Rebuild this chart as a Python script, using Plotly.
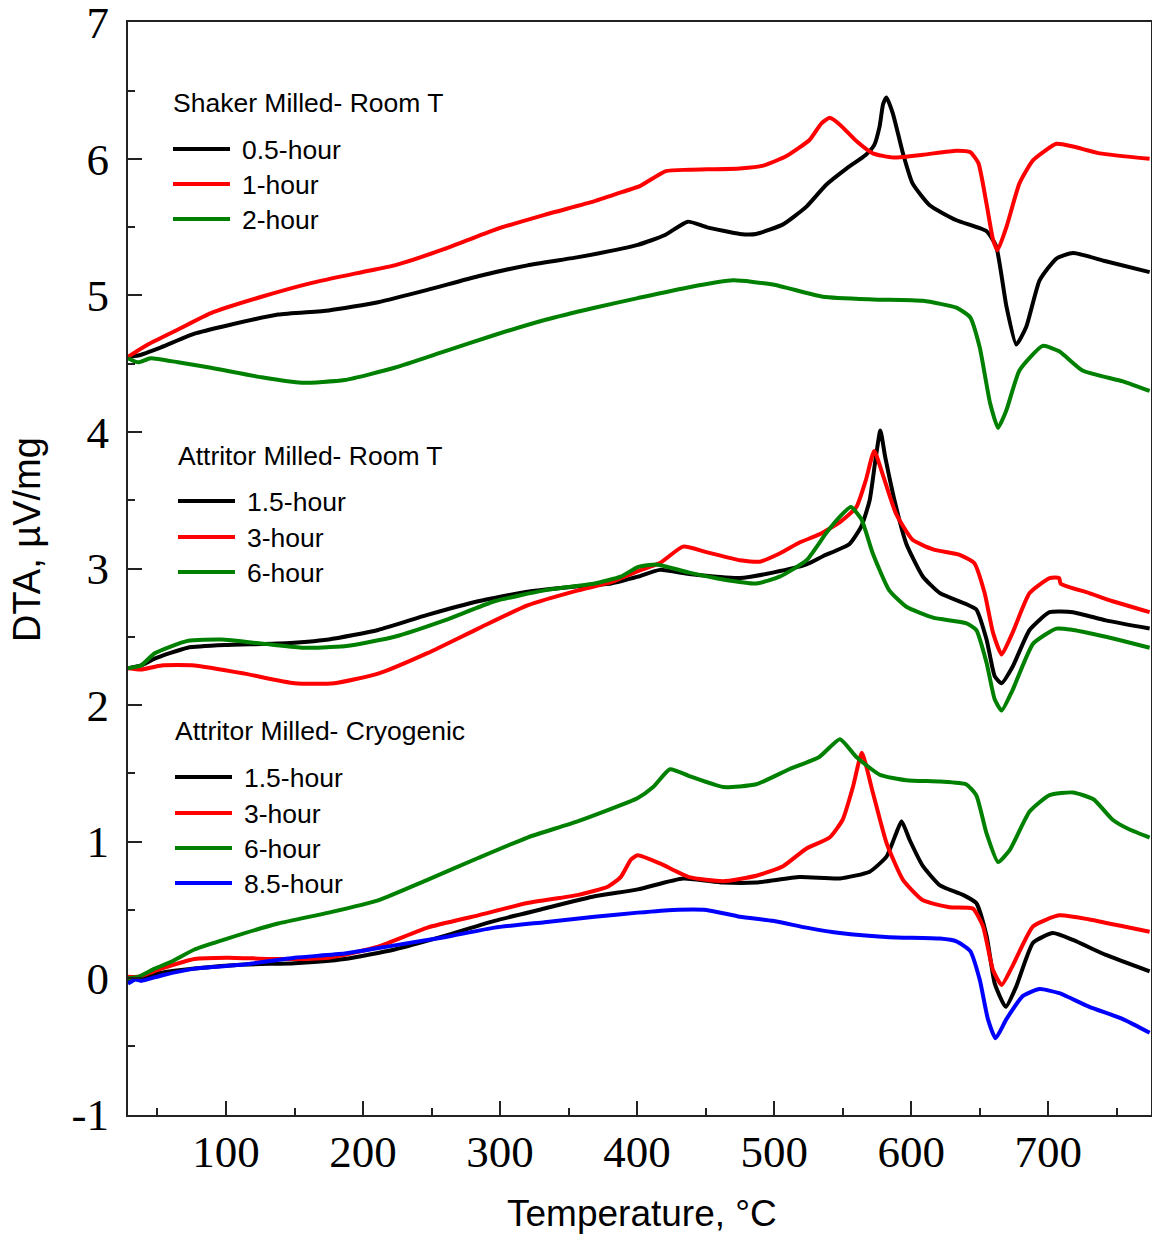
import plotly.graph_objects as go

# ---------------- data ----------------
# Shaker Milled - Room T
sh_05_T = [28.5, 36, 52.6, 77, 101, 138, 175, 211, 247, 284, 320, 357, 400.5, 420, 437, 450.6, 475, 487, 506.5, 523.6, 538, 553, 567, 573, 577, 579.5, 582, 586.7, 594, 601, 613.5, 633, 655, 662, 669.5, 676.7, 684, 693.7, 706, 718, 742, 774]
sh_05_y = [4.55, 4.56, 4.62, 4.72, 4.78, 4.86, 4.89, 4.95, 5.04, 5.14, 5.22, 5.28, 5.37, 5.44, 5.54, 5.50, 5.45, 5.45, 5.52, 5.65, 5.81, 5.93, 6.03, 6.10, 6.24, 6.40, 6.45, 6.33, 6.04, 5.82, 5.66, 5.55, 5.47, 5.36, 4.92, 4.64, 4.77, 5.11, 5.27, 5.31, 5.25, 5.17]

sh_1_T = [28.5, 43, 65, 89, 126, 162, 199, 223, 259.5, 296, 332.5, 369, 393, 402, 421, 438, 475, 492, 509, 526, 534.5, 540.5, 548, 560, 572, 587, 608.6, 633, 643, 649, 655, 659.7, 663, 669.5, 679, 689, 706, 718, 737.5, 774]
sh_1_y = [4.55, 4.64, 4.75, 4.87, 4.99, 5.09, 5.17, 5.22, 5.34, 5.48, 5.59, 5.69, 5.77, 5.80, 5.91, 5.92, 5.93, 5.95, 6.02, 6.14, 6.26, 6.30, 6.25, 6.13, 6.04, 6.01, 6.03, 6.06, 6.05, 5.97, 5.67, 5.41, 5.33, 5.50, 5.82, 5.99, 6.11, 6.09, 6.04, 6.00]

sh_2_T = [28.5, 36, 45, 65, 89, 126, 155, 186.6, 223, 259.5, 296, 332.5, 369, 400.5, 438, 470, 499, 535.6, 572, 608.6, 633, 643, 650, 657.6, 663.4, 669.5, 679, 696, 708, 725, 754.5, 774]
sh_2_y = [4.54, 4.51, 4.54, 4.51, 4.47, 4.40, 4.36, 4.38, 4.47, 4.59, 4.71, 4.82, 4.91, 4.98, 5.06, 5.11, 5.08, 4.99, 4.97, 4.96, 4.91, 4.84, 4.62, 4.21, 4.03, 4.16, 4.45, 4.63, 4.59, 4.45, 4.37, 4.30]

# Attritor Milled - Room T
ar_15_T = [28.5, 38, 48, 72, 101, 138, 175, 211, 247, 284, 320, 357, 381, 400.5, 416.6, 438, 475, 499, 523.6, 535.6, 555, 563.7, 569.7, 574, 577.5, 581, 589, 596.5, 608.6, 621, 640, 647.5, 655, 661, 666, 674, 686.4, 701, 718, 742, 774]
ar_15_y = [2.27, 2.29, 2.34, 2.42, 2.44, 2.45, 2.48, 2.55, 2.66, 2.76, 2.83, 2.87, 2.89, 2.94, 2.99, 2.96, 2.93, 2.97, 3.03, 3.09, 3.18, 3.31, 3.50, 3.80, 4.01, 3.82, 3.45, 3.18, 2.94, 2.82, 2.74, 2.70, 2.48, 2.21, 2.16, 2.28, 2.55, 2.68, 2.68, 2.62, 2.56]

ar_3_T = [28.5, 38, 53, 77, 113.6, 150, 179, 211, 247, 284, 320, 357, 381, 400.5, 416.6, 433.6, 450.6, 475, 489.5, 504, 518.5, 533, 548, 560, 567, 573, 579.5, 589, 601, 616, 635.4, 646, 653.6, 659.7, 666, 674, 686.4, 701, 708, 709, 730, 747, 774]
ar_3_y = [2.27, 2.26, 2.29, 2.29, 2.23, 2.16, 2.16, 2.23, 2.38, 2.56, 2.73, 2.84, 2.90, 2.98, 3.04, 3.16, 3.12, 3.06, 3.05, 3.11, 3.19, 3.25, 3.34, 3.45, 3.65, 3.86, 3.68, 3.40, 3.21, 3.14, 3.10, 3.04, 2.82, 2.53, 2.37, 2.53, 2.82, 2.93, 2.93, 2.89, 2.82, 2.76, 2.68]

ar_6_T = [28.5, 38, 48, 72, 96.5, 126, 155, 186.6, 223, 259.5, 296, 332.5, 369, 388, 400.5, 414, 438, 462.7, 487, 504, 523.6, 538, 548, 556, 563.7, 572, 584, 596.5, 616, 640, 647.5, 655, 661, 666, 674, 689, 706, 718, 742, 774]
ar_6_y = [2.27, 2.29, 2.38, 2.47, 2.48, 2.45, 2.42, 2.43, 2.50, 2.62, 2.76, 2.84, 2.89, 2.94, 3.01, 3.03, 2.97, 2.92, 2.89, 2.94, 3.06, 3.26, 3.38, 3.45, 3.36, 3.11, 2.84, 2.72, 2.64, 2.60, 2.55, 2.31, 2.04, 1.96, 2.11, 2.45, 2.56, 2.55, 2.50, 2.42]

# Attritor Milled - Cryogenic
ac_15_T = [28.5, 36, 53, 77, 113.6, 150, 186.6, 223, 259.5, 296, 332.5, 369, 400.5, 433.6, 462.7, 487, 518.5, 548, 569.7, 582, 589, 593, 599, 608.6, 621, 637.8, 647.5, 655, 661, 669, 676.7, 689, 703.4, 718, 742, 774]
ac_15_y = [-0.01, 0.00, 0.04, 0.07, 0.10, 0.11, 0.14, 0.21, 0.31, 0.42, 0.51, 0.60, 0.65, 0.73, 0.70, 0.70, 0.74, 0.73, 0.78, 0.89, 1.06, 1.15, 1.01, 0.82, 0.68, 0.61, 0.55, 0.31, -0.04, -0.21, -0.06, 0.26, 0.33, 0.28, 0.17, 0.05]

ac_3_T = [28.5, 36, 53, 77, 101, 138, 175, 211, 247, 284, 320, 357, 378.6, 388, 395.6, 400.5, 416.6, 438, 462.7, 487, 506.5, 523.6, 540.5, 550, 557.5, 564, 572, 582, 594, 608.6, 628, 645, 652.4, 659.7, 666, 674, 689, 708, 730, 754.5, 774]
ac_3_y = [0.01, 0.01, 0.07, 0.14, 0.15, 0.14, 0.15, 0.23, 0.37, 0.46, 0.55, 0.61, 0.67, 0.74, 0.87, 0.90, 0.84, 0.74, 0.71, 0.75, 0.82, 0.95, 1.03, 1.16, 1.40, 1.65, 1.36, 0.99, 0.72, 0.57, 0.52, 0.51, 0.38, 0.06, -0.05, 0.09, 0.38, 0.46, 0.43, 0.38, 0.34]

ac_6_T = [28.5, 36, 48, 60, 77, 101, 138, 175, 211, 247, 284, 320, 357, 400.5, 411.7, 424, 438, 462.7, 487, 511, 533, 548, 560, 577, 596.5, 621, 640, 647.5, 655, 663.4, 672, 686.4, 701, 718, 733, 747, 759, 774]
ac_6_y = [0.00, 0.01, 0.07, 0.12, 0.21, 0.29, 0.40, 0.48, 0.57, 0.72, 0.88, 1.03, 1.15, 1.32, 1.40, 1.53, 1.48, 1.40, 1.42, 1.53, 1.62, 1.75, 1.62, 1.49, 1.45, 1.44, 1.42, 1.34, 1.06, 0.85, 0.94, 1.22, 1.34, 1.36, 1.31, 1.16, 1.09, 1.03]

ac_85_T = [28.5, 34, 38, 53, 77, 113.6, 150, 186.6, 223, 259.5, 296, 332.5, 369, 400.5, 426, 450.6, 475, 499, 523.6, 548, 584, 621, 633, 643, 650, 656, 661.6, 669.5, 681.6, 693.7, 708, 730, 754.5, 774]
ac_85_y = [-0.04, -0.01, -0.02, 0.02, 0.07, 0.10, 0.15, 0.18, 0.24, 0.30, 0.37, 0.41, 0.45, 0.48, 0.50, 0.50, 0.45, 0.42, 0.37, 0.33, 0.30, 0.29, 0.27, 0.20, -0.01, -0.30, -0.44, -0.30, -0.13, -0.08, -0.11, -0.21, -0.30, -0.40]

group_titles = ["Shaker Milled- Room T", "Attritor Milled- Room T", "Attritor Milled- Cryogenic"]
group1_labels = ["0.5-hour", "1-hour", "2-hour"]
group2_labels = ["1.5-hour", "3-hour", "6-hour"]
group3_labels = ["1.5-hour", "3-hour", "6-hour", "8.5-hour"]

y_tickvals = [-1, 0, 1, 2, 3, 4, 5, 6, 7]
y_ticktext = ["-1", "0", "1", "2", "3", "4", "5", "6", "7"]
x_tickvals = [100, 200, 300, 400, 500, 600, 700]
x_ticktext = ["100", "200", "300", "400", "500", "600", "700"]

# ---------------- figure ----------------
BLACK, RED, GREEN, BLUE = "#000000", "#FF0000", "#008000", "#0000FF"
LW = 4

series = [
    (sh_05_T, sh_05_y, BLACK), (sh_1_T, sh_1_y, RED), (sh_2_T, sh_2_y, GREEN),
    (ar_15_T, ar_15_y, BLACK), (ar_3_T, ar_3_y, RED), (ar_6_T, ar_6_y, GREEN),
    (ac_15_T, ac_15_y, BLACK), (ac_3_T, ac_3_y, RED), (ac_6_T, ac_6_y, GREEN), (ac_85_T, ac_85_y, BLUE),
]

fig = go.Figure()
for xs, ys, c in series:
    fig.add_trace(go.Scatter(x=xs, y=ys, mode="lines",
                             line=dict(color=c, width=LW, shape="spline", smoothing=0.5),
                             showlegend=False, hoverinfo="skip"))

W, H = 1152, 1236
L, R, T, B = 128, 1151, 22, 1115


def px(xp):
    return (xp - L) / (R - L)


def py(yp):
    return (B - yp) / (B - T)


annotations = []
shapes = []
legend_font = dict(family="Liberation Sans, Arial, sans-serif", size=26.5, color="black")


def add_legend(title, labels, colors, title_x, title_y, line_x0, line_x1, text_x, ys):
    annotations.append(dict(text=title, x=px(title_x), y=py(title_y), xref="paper", yref="paper",
                            xanchor="left", yanchor="middle", showarrow=False, font=legend_font))
    for lab, col, yy in zip(labels, colors, ys):
        shapes.append(dict(type="line", xref="paper", yref="paper",
                           x0=px(line_x0), x1=px(line_x1), y0=py(yy), y1=py(yy),
                           line=dict(color=col, width=LW)))
        annotations.append(dict(text=lab, x=px(text_x), y=py(yy + 1), xref="paper", yref="paper",
                                xanchor="left", yanchor="middle", showarrow=False, font=legend_font))


add_legend(group_titles[0], group1_labels, [BLACK, RED, GREEN], 171, 103, 173, 230, 240, [149, 184, 219])
add_legend(group_titles[1], group2_labels, [BLACK, RED, GREEN], 176, 456, 178, 235, 245, [501, 537, 572])
add_legend(group_titles[2], group3_labels, [BLACK, RED, GREEN, BLUE], 173, 731, 175, 232, 242, [777, 813, 848, 883])

# axis titles
annotations.append(dict(text="DTA, µV/mg", x=px(27), y=py(540), xref="paper", yref="paper",
                        xanchor="center", yanchor="middle", textangle=-90, showarrow=False,
                        font=dict(family="Liberation Sans, Arial, sans-serif", size=38, color="black")))
annotations.append(dict(text="Temperature, °C", x=px(642), y=py(1213), xref="paper", yref="paper",
                        xanchor="center", yanchor="middle", showarrow=False,
                        font=dict(family="Liberation Sans, Arial, sans-serif", size=37, color="black")))

tick_font = dict(family="Liberation Serif, Times New Roman, serif", size=45, color="black")

fig.update_layout(
    width=W, height=H,
    margin=dict(l=L, r=W - R, t=T, b=H - B, pad=0, autoexpand=False),
    paper_bgcolor="white", plot_bgcolor="white",
    showlegend=False,
    annotations=annotations, shapes=shapes,
    xaxis=dict(range=[28.5, 775], showgrid=False, zeroline=False, automargin=False,
               showline=True, linecolor="#222222", linewidth=2, mirror=True,
               ticks="inside", ticklen=14, tickwidth=1.5, tickcolor="#222222",
               tickvals=x_tickvals, ticktext=x_ticktext, tickfont=tick_font,
               ticklabelstandoff=-4, ticklabeloverflow="allow",
               minor=dict(ticks="inside", ticklen=7, tickwidth=1.5, tickcolor="#222222",
                          tickvals=[50, 150, 250, 350, 450, 550, 650, 750])),
    yaxis=dict(range=[-1.002, 7.002], showgrid=False, zeroline=False, automargin=False,
               showline=True, linecolor="#222222", linewidth=2, mirror=True,
               ticks="inside", ticklen=14, tickwidth=1.5, tickcolor="#222222",
               tickvals=y_tickvals, ticktext=y_ticktext, tickfont=tick_font,
               ticklabelstandoff=8, ticklabeloverflow="allow",
               minor=dict(ticks="inside", ticklen=7, tickwidth=1.5, tickcolor="#222222",
                          tickvals=[-0.5, 0.5, 1.5, 2.5, 3.5, 4.5, 5.5, 6.5])),
)

fig.write_html("out.html", config={"displayModeBar": False},
               post_script="document.body.style.margin='0';document.body.style.overflow='hidden';")
